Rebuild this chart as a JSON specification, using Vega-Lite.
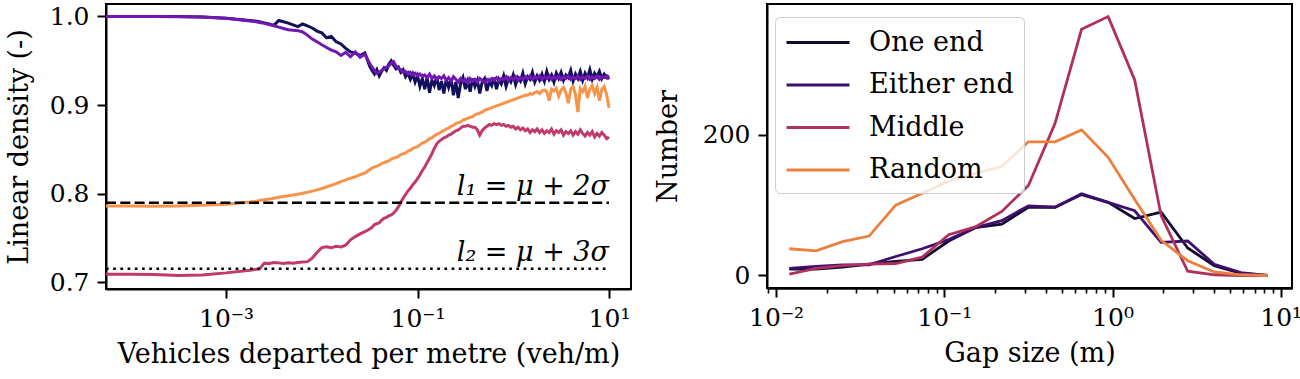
{
  "$schema": "https://vega.github.io/schema/vega-lite/v6.json",
  "padding": {"left": 4, "top": 3, "right": 0, "bottom": 2},
  "background": "white",
  "config": {
    "font": "DejaVu Serif",
    "view": {"stroke": "black", "strokeWidth": 2},
    "axis": {
      "domainColor": "black", "domainWidth": 2,
      "tickColor": "black", "tickWidth": 2, "tickSize": 9,
      "labelFont": "DejaVu Serif", "labelFontSize": 25, "labelColor": "black", "labelPadding": 8,
      "titleFont": "DejaVu Serif", "titleFontSize": 27, "titleFontWeight": "normal", "titleColor": "black", "titlePadding": 10,
      "grid": false, "labelFlush": false, "labelOverlap": false
    }
  },
  "spacing": 21,
  "resolve": {"scale": {"color": "independent"}},
  "hconcat": [
    {
      "width": 525,
      "height": 285,
      "layer": [
        {
          "data": {"values": [
            {"x":5.57e-5,"one":1.0,"either":1.0,"middle":0.709,"random":0.786},
            {"x":1e-4,"one":1.0,"either":1.0,"middle":0.709,"random":0.786},
            {"x":1.778e-4,"one":1.0,"either":1.0,"middle":0.7088,"random":0.7857},
            {"x":3.162e-4,"one":0.9999,"either":0.9998,"middle":0.7075,"random":0.786},
            {"x":5.623e-4,"one":0.9995,"either":0.9993,"middle":0.7082,"random":0.7868},
            {"x":1e-3,"one":0.998,"either":0.998,"middle":0.7105,"random":0.788},
            {"x":1.778e-3,"one":0.9955,"either":0.995,"middle":0.7135,"random":0.7905},
            {"x":1.995e-3,"one":0.9948,"either":0.9942,"middle":0.7142,"random":0.7912},
            {"x":2.239e-3,"one":0.994,"either":0.9932,"middle":0.715,"random":0.7922},
            {"x":2.512e-3,"one":0.9928,"either":0.9922,"middle":0.7215,"random":0.793},
            {"x":2.818e-3,"one":0.9915,"either":0.991,"middle":0.7212,"random":0.7938},
            {"x":3.162e-3,"one":0.99,"either":0.9895,"middle":0.7222,"random":0.7948},
            {"x":3.548e-3,"one":0.9955,"either":0.988,"middle":0.7218,"random":0.7958},
            {"x":3.981e-3,"one":0.994,"either":0.9865,"middle":0.7212,"random":0.7968},
            {"x":4.467e-3,"one":0.9925,"either":0.985,"middle":0.722,"random":0.7975},
            {"x":5.012e-3,"one":0.9905,"either":0.9845,"middle":0.7215,"random":0.7985},
            {"x":5.623e-3,"one":0.9885,"either":0.984,"middle":0.7222,"random":0.7992},
            {"x":6.31e-3,"one":0.9915,"either":0.9825,"middle":0.7228,"random":0.8005},
            {"x":7.079e-3,"one":0.9895,"either":0.979,"middle":0.7232,"random":0.8015},
            {"x":7.943e-3,"one":0.987,"either":0.9745,"middle":0.7272,"random":0.8028},
            {"x":8.913e-3,"one":0.9835,"either":0.9715,"middle":0.7335,"random":0.8042},
            {"x":0.01,"one":0.9815,"either":0.968,"middle":0.739,"random":0.8058},
            {"x":0.01122,"one":0.976,"either":0.965,"middle":0.74,"random":0.8075},
            {"x":0.01259,"one":0.9775,"either":0.962,"middle":0.7388,"random":0.8095},
            {"x":0.01413,"one":0.9715,"either":0.96,"middle":0.7405,"random":0.8112},
            {"x":0.01585,"one":0.969,"either":0.956,"middle":0.7398,"random":0.8135},
            {"x":0.01778,"one":0.964,"either":0.9595,"middle":0.7418,"random":0.8155},
            {"x":0.01995,"one":0.96,"either":0.9545,"middle":0.7478,"random":0.8175},
            {"x":0.02239,"one":0.9585,"either":0.96,"middle":0.7515,"random":0.819},
            {"x":0.02512,"one":0.956,"either":0.954,"middle":0.7545,"random":0.8215},
            {"x":0.02818,"one":0.959,"either":0.9575,"middle":0.757,"random":0.8232},
            {"x":0.03162,"one":0.944,"either":0.947,"middle":0.76,"random":0.827},
            {"x":0.0335,"one":0.939,"either":0.943,"middle":0.762,"random":0.829},
            {"x":0.03548,"one":0.935,"either":0.939,"middle":0.765,"random":0.83},
            {"x":0.03758,"one":0.94,"either":0.936,"middle":0.766,"random":0.831},
            {"x":0.03981,"one":0.933,"either":0.937,"middle":0.767,"random":0.832},
            {"x":0.04217,"one":0.938,"either":0.939,"middle":0.77,"random":0.834},
            {"x":0.04467,"one":0.942,"either":0.941,"middle":0.772,"random":0.835},
            {"x":0.04732,"one":0.939,"either":0.943,"middle":0.773,"random":0.836},
            {"x":0.05012,"one":0.946,"either":0.944,"middle":0.775,"random":0.837},
            {"x":0.05309,"one":0.95,"either":0.947,"middle":0.776,"random":0.839},
            {"x":0.05623,"one":0.945,"either":0.949,"middle":0.778,"random":0.84},
            {"x":0.05957,"one":0.941,"either":0.944,"middle":0.781,"random":0.841},
            {"x":0.0631,"one":0.943,"either":0.941,"middle":0.785,"random":0.842},
            {"x":0.06683,"one":0.937,"either":0.94,"middle":0.79,"random":0.844},
            {"x":0.07079,"one":0.94,"either":0.937,"middle":0.795,"random":0.845},
            {"x":0.07499,"one":0.932,"either":0.938,"middle":0.799,"random":0.846},
            {"x":0.07943,"one":0.936,"either":0.935,"middle":0.803,"random":0.848},
            {"x":0.08414,"one":0.929,"either":0.937,"middle":0.806,"random":0.849},
            {"x":0.08913,"one":0.935,"either":0.934,"middle":0.81,"random":0.851},
            {"x":0.09441,"one":0.926,"either":0.936,"middle":0.813,"random":0.852},
            {"x":0.1,"one":0.933,"either":0.933,"middle":0.817,"random":0.853},
            {"x":0.1059,"one":0.921,"either":0.935,"middle":0.821,"random":0.855},
            {"x":0.1122,"one":0.93,"either":0.932,"middle":0.826,"random":0.857},
            {"x":0.1189,"one":0.918,"either":0.934,"middle":0.83,"random":0.858},
            {"x":0.1259,"one":0.931,"either":0.931,"middle":0.835,"random":0.86},
            {"x":0.1334,"one":0.914,"either":0.935,"middle":0.84,"random":0.862},
            {"x":0.1413,"one":0.928,"either":0.93,"middle":0.845,"random":0.863},
            {"x":0.1496,"one":0.922,"either":0.933,"middle":0.851,"random":0.865},
            {"x":0.1585,"one":0.932,"either":0.929,"middle":0.856,"random":0.867},
            {"x":0.1679,"one":0.917,"either":0.932,"middle":0.859,"random":0.868},
            {"x":0.1778,"one":0.927,"either":0.93,"middle":0.861,"random":0.87},
            {"x":0.1884,"one":0.913,"either":0.933,"middle":0.863,"random":0.871},
            {"x":0.1995,"one":0.929,"either":0.928,"middle":0.864,"random":0.873},
            {"x":0.2113,"one":0.92,"either":0.931,"middle":0.866,"random":0.874},
            {"x":0.2239,"one":0.93,"either":0.927,"middle":0.867,"random":0.876},
            {"x":0.2371,"one":0.911,"either":0.932,"middle":0.869,"random":0.877},
            {"x":0.2512,"one":0.926,"either":0.929,"middle":0.871,"random":0.879},
            {"x":0.2661,"one":0.908,"either":0.926,"middle":0.872,"random":0.88},
            {"x":0.2818,"one":0.924,"either":0.93,"middle":0.874,"random":0.881},
            {"x":0.2985,"one":0.931,"either":0.927,"middle":0.876,"random":0.883},
            {"x":0.3162,"one":0.918,"either":0.929,"middle":0.876,"random":0.884},
            {"x":0.335,"one":0.927,"either":0.925,"middle":0.877,"random":0.885},
            {"x":0.3548,"one":0.915,"either":0.93,"middle":0.876,"random":0.886},
            {"x":0.3758,"one":0.93,"either":0.927,"middle":0.875,"random":0.887},
            {"x":0.3981,"one":0.921,"either":0.929,"middle":0.875,"random":0.889},
            {"x":0.4217,"one":0.928,"either":0.926,"middle":0.872,"random":0.89},
            {"x":0.4467,"one":0.913,"either":0.93,"middle":0.866,"random":0.891},
            {"x":0.4732,"one":0.926,"either":0.928,"middle":0.871,"random":0.892},
            {"x":0.5012,"one":0.93,"either":0.925,"middle":0.874,"random":0.894},
            {"x":0.5309,"one":0.916,"either":0.929,"middle":0.876,"random":0.895},
            {"x":0.5623,"one":0.927,"either":0.927,"middle":0.878,"random":0.896},
            {"x":0.5957,"one":0.922,"either":0.93,"middle":0.877,"random":0.897},
            {"x":0.631,"one":0.931,"either":0.928,"middle":0.879,"random":0.898},
            {"x":0.6683,"one":0.918,"either":0.931,"middle":0.878,"random":0.899},
            {"x":0.7079,"one":0.929,"either":0.927,"middle":0.879,"random":0.9},
            {"x":0.7499,"one":0.924,"either":0.93,"middle":0.877,"random":0.901},
            {"x":0.7943,"one":0.933,"either":0.929,"middle":0.878,"random":0.902},
            {"x":0.8414,"one":0.921,"either":0.932,"middle":0.876,"random":0.903},
            {"x":0.8913,"one":0.93,"either":0.928,"middle":0.877,"random":0.904},
            {"x":0.9441,"one":0.926,"either":0.931,"middle":0.875,"random":0.905},
            {"x":1.0,"one":0.934,"either":0.929,"middle":0.876,"random":0.906},
            {"x":1.059,"one":0.923,"either":0.932,"middle":0.873,"random":0.907},
            {"x":1.122,"one":0.931,"either":0.928,"middle":0.875,"random":0.908},
            {"x":1.189,"one":0.927,"either":0.931,"middle":0.872,"random":0.909},
            {"x":1.259,"one":0.936,"either":0.929,"middle":0.874,"random":0.91},
            {"x":1.334,"one":0.924,"either":0.932,"middle":0.871,"random":0.911},
            {"x":1.413,"one":0.932,"either":0.93,"middle":0.873,"random":0.911},
            {"x":1.496,"one":0.929,"either":0.933,"middle":0.869,"random":0.913},
            {"x":1.585,"one":0.937,"either":0.929,"middle":0.872,"random":0.912},
            {"x":1.679,"one":0.926,"either":0.932,"middle":0.87,"random":0.914},
            {"x":1.778,"one":0.933,"either":0.93,"middle":0.873,"random":0.915},
            {"x":1.884,"one":0.928,"either":0.933,"middle":0.869,"random":0.913},
            {"x":1.995,"one":0.935,"either":0.929,"middle":0.872,"random":0.916},
            {"x":2.113,"one":0.927,"either":0.932,"middle":0.868,"random":0.917},
            {"x":2.239,"one":0.938,"either":0.93,"middle":0.871,"random":0.915},
            {"x":2.371,"one":0.929,"either":0.933,"middle":0.869,"random":0.905},
            {"x":2.512,"one":0.934,"either":0.929,"middle":0.873,"random":0.918},
            {"x":2.661,"one":0.926,"either":0.932,"middle":0.867,"random":0.916},
            {"x":2.818,"one":0.936,"either":0.93,"middle":0.871,"random":0.919},
            {"x":2.985,"one":0.93,"either":0.933,"middle":0.869,"random":0.91},
            {"x":3.162,"one":0.937,"either":0.929,"middle":0.872,"random":0.917},
            {"x":3.35,"one":0.928,"either":0.932,"middle":0.866,"random":0.92},
            {"x":3.548,"one":0.934,"either":0.93,"middle":0.87,"random":0.914},
            {"x":3.758,"one":0.931,"either":0.933,"middle":0.868,"random":0.902},
            {"x":3.981,"one":0.939,"either":0.929,"middle":0.871,"random":0.918},
            {"x":4.217,"one":0.927,"either":0.932,"middle":0.866,"random":0.921},
            {"x":4.467,"one":0.935,"either":0.93,"middle":0.87,"random":0.912},
            {"x":4.732,"one":0.93,"either":0.933,"middle":0.867,"random":0.892},
            {"x":5.012,"one":0.938,"either":0.929,"middle":0.872,"random":0.919},
            {"x":5.309,"one":0.928,"either":0.932,"middle":0.868,"random":0.915},
            {"x":5.623,"one":0.936,"either":0.93,"middle":0.865,"random":0.921},
            {"x":5.957,"one":0.931,"either":0.933,"middle":0.869,"random":0.908},
            {"x":6.31,"one":0.94,"either":0.929,"middle":0.866,"random":0.918},
            {"x":6.683,"one":0.929,"either":0.932,"middle":0.87,"random":0.922},
            {"x":7.079,"one":0.936,"either":0.93,"middle":0.864,"random":0.913},
            {"x":7.499,"one":0.932,"either":0.933,"middle":0.868,"random":0.92},
            {"x":7.943,"one":0.938,"either":0.929,"middle":0.865,"random":0.905},
            {"x":8.414,"one":0.93,"either":0.932,"middle":0.869,"random":0.918},
            {"x":8.913,"one":0.935,"either":0.931,"middle":0.866,"random":0.921},
            {"x":9.441,"one":0.931,"either":0.933,"middle":0.862,"random":0.912},
            {"x":10,"one":0.933,"either":0.929,"middle":0.864,"random":0.897}
          ]},
          "transform": [{"fold": ["one", "either", "middle", "random"], "as": ["series", "density"]}],
          "mark": {"type": "line", "strokeWidth": 3},
          "encoding": {
            "x": {"field": "x", "type": "quantitative",
              "scale": {"type": "log", "domain": [5.57e-5, 16.98], "nice": false},
              "axis": {"values": [0.001, 0.1, 10], "title": "Vehicles departed per metre (veh/m)",
                "labelExpr": "round(log(datum.value)/LN10) == -3 ? '10⁻³' : round(log(datum.value)/LN10) == -2 ? '10⁻²' : round(log(datum.value)/LN10) == -1 ? '10⁻¹' : round(log(datum.value)/LN10) == 0 ? '10⁰' : '10¹'"}},
            "y": {"field": "density", "type": "quantitative",
              "scale": {"domain": [0.6923, 1.0141], "nice": false, "zero": false},
              "axis": {"values": [0.7, 0.8, 0.9, 1.0], "format": ".1f", "title": "Linear density (-)", "titlePadding": 16}},
            "color": {"field": "series", "type": "nominal",
              "scale": {"domain": ["one", "either", "middle", "random"], "range": ["#12105a", "#7216b4", "#c03a6b", "#f7944a"]},
              "legend": null}
          }
        },
        {
          "data": {"values": [{"x": 5.57e-5, "density": 0.7897}, {"x": 10, "density": 0.7897}]},
          "mark": {"type": "line", "color": "black", "strokeWidth": 2.6, "strokeDash": [10, 4.3]},
          "encoding": {"x": {"field": "x", "type": "quantitative"}, "y": {"field": "density", "type": "quantitative"}}
        },
        {
          "data": {"values": [{"x": 5.57e-5, "density": 0.7152}, {"x": 10, "density": 0.7152}]},
          "mark": {"type": "line", "color": "black", "strokeWidth": 2.6, "strokeDash": [2.7, 4.5]},
          "encoding": {"x": {"field": "x", "type": "quantitative"}, "y": {"field": "density", "type": "quantitative"}}
        },
        {
          "data": {"values": [
            {"x": 10, "density": 0.7897, "label": "l₁ = μ + 2σ"},
            {"x": 10, "density": 0.7152, "label": "l₂ = μ + 3σ"}
          ]},
          "mark": {"type": "text", "align": "right", "baseline": "alphabetic", "dy": -8, "fontSize": 27, "fontStyle": "italic", "font": "DejaVu Serif", "color": "black"},
          "encoding": {"x": {"field": "x", "type": "quantitative"}, "y": {"field": "density", "type": "quantitative"}, "text": {"field": "label"}}
        }
      ]
    },
    {
      "width": 525,
      "height": 284,
      "data": {"values": [
        {"x":0.01199,"One end":9,"Either end":10,"Middle":2,"Random":38},
        {"x":0.01726,"One end":9,"Either end":13,"Middle":10,"Random":35},
        {"x":0.02483,"One end":12,"Either end":15,"Middle":14,"Random":48},
        {"x":0.03573,"One end":16,"Either end":15,"Middle":16,"Random":56},
        {"x":0.0514,"One end":20,"Either end":27,"Middle":17,"Random":100},
        {"x":0.07387,"One end":23,"Either end":38,"Middle":26,"Random":117},
        {"x":0.1062,"One end":49,"Either end":51,"Middle":58,"Random":134},
        {"x":0.1528,"One end":68,"Either end":68,"Middle":69,"Random":145},
        {"x":0.2198,"One end":73,"Either end":78,"Middle":91,"Random":155},
        {"x":0.3162,"One end":97,"Either end":99,"Middle":128,"Random":190},
        {"x":0.455,"One end":97,"Either end":97,"Middle":216,"Random":190},
        {"x":0.6546,"One end":115,"Either end":116,"Middle":350,"Random":207},
        {"x":0.9419,"One end":104,"Either end":104,"Middle":368,"Random":168},
        {"x":1.355,"One end":81,"Either end":92,"Middle":278,"Random":108},
        {"x":1.945,"One end":90,"Either end":47,"Middle":85,"Random":50},
        {"x":2.799,"One end":39,"Either end":49,"Middle":6,"Random":21},
        {"x":4.027,"One end":14,"Either end":16,"Middle":1,"Random":5},
        {"x":5.794,"One end":3,"Either end":4,"Middle":0,"Random":1},
        {"x":8.337,"One end":0,"Either end":0,"Middle":0,"Random":0}
      ]},
      "transform": [{"fold": ["One end", "Either end", "Middle", "Random"], "as": ["series", "count"]}],
      "resolve": {"axis": {"x": "independent"}},
      "layer": [
        {
          "mark": {"type": "line", "strokeWidth": 2.8},
          "encoding": {
            "x": {"field": "x", "type": "quantitative",
              "scale": {"type": "log", "domain": [0.00883, 11.67], "nice": false},
              "axis": {"orient": "bottom", "values": [0.01, 0.1, 1, 10], "title": "Gap size (m)",
                "labelExpr": "round(log(datum.value)/LN10) == -3 ? '10⁻³' : round(log(datum.value)/LN10) == -2 ? '10⁻²' : round(log(datum.value)/LN10) == -1 ? '10⁻¹' : round(log(datum.value)/LN10) == 0 ? '10⁰' : '10¹'"}},
            "y": {"field": "count", "type": "quantitative",
              "scale": {"domain": [-17.8, 385.9], "nice": false, "zero": false},
              "axis": {"values": [0, 200], "title": "Number", "titlePadding": 20}},
            "color": {"field": "series", "type": "nominal",
              "scale": {"domain": ["One end", "Either end", "Middle", "Random"], "range": ["#110c32", "#3f0f6e", "#b0305c", "#eb7f3c"]},
              "legend": {"orient": "none", "legendX": 8, "legendY": 13, "title": null,
                "symbolType": "M-1,0H3.5", "symbolSize": 784, "symbolStrokeWidth": 2.8,
                "labelFont": "DejaVu Serif", "labelFontSize": 27, "labelColor": "black", "labelOffset": 53,
                "fillColor": "rgba(255,255,255,0.8)", "strokeColor": "#cccccc", "cornerRadius": 5, "padding": 10, "rowPadding": 13.5}}
          }
        },
        {
          "mark": {"type": "line", "opacity": 0},
          "encoding": {
            "x": {"field": "x", "type": "quantitative",
              "axis": {"orient": "bottom", "values": [0.009, 0.02, 0.03, 0.04, 0.05, 0.06, 0.07, 0.08, 0.09, 0.2, 0.3, 0.4, 0.5, 0.6, 0.7, 0.8, 0.9, 2, 3, 4, 5, 6, 7, 8, 9], "labels": false, "tickSize": 5, "tickWidth": 1.6, "title": null}},
            "y": {"field": "count", "type": "quantitative"}
          }
        }
      ]
    }
  ]
}
